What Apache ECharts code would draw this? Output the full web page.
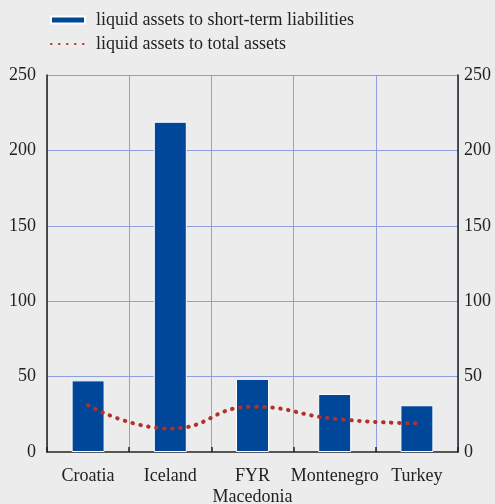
<!DOCTYPE html>
<html>
<head>
<meta charset="utf-8">
<script src="https://cdn.jsdelivr.net/npm/echarts@6/dist/echarts.min.js"></script>
<style>
  html, body { margin: 0; padding: 0; background: #ececec; }
  #chart { width: 495px; height: 504px; }
</style>
</head>
<body>
<div id="chart"></div>
<script>
const categories = ['Croatia', 'Iceland', 'FYR\nMacedonia', 'Montenegro', 'Turkey']
const shortTerm = [47.5, 219, 48.5, 38.5, 31]
const totalAssets = [31, 15.5, 30, 22, 19]
const yTicks = { min: 0, max: 250, interval: 50 }

const font = 'Liberation Serif'
const gridBlue = '#8f9fdc'
const splitColors = ['#ffffff', gridBlue, gridBlue, gridBlue, gridBlue, gridBlue]

const yAxisBase = {
  type: 'value',
  min: yTicks.min,
  max: yTicks.max,
  interval: yTicks.interval,
  axisLine: { show: true, lineStyle: { color: '#222', width: 1.5 } },
  axisTick: { show: false },
  axisLabel: { color: '#222', fontFamily: font, fontSize: 18 }
}

const chart = echarts.init(document.getElementById('chart'))
chart.setOption({
  backgroundColor: '#ececec',
  animation: false,
  legend: {
    orient: 'vertical',
    left: 45,
    top: 6,
    itemWidth: 34,
    itemHeight: 7,
    itemGap: 6,
    textStyle: { color: '#222', fontFamily: font, fontSize: 18, padding: [0, 0, 0, 6] },
    data: [
      { name: 'liquid assets to short-term liabilities', icon: 'rect' },
      { name: 'liquid assets to total assets', itemStyle: { opacity: 0 } }
    ]
  },
  grid: { left: 47, right: 37, top: 75, bottom: 52, outerBoundsMode: 'none', containLabel: false },
  xAxis: {
    type: 'category',
    data: categories,
    offset: 5,
    axisLine: { lineStyle: { color: '#222', width: 1.5 } },
    axisTick: { show: true, inside: true, length: 5, lineStyle: { color: '#222', width: 1.5 } },
    axisLabel: { color: '#222', fontFamily: font, fontSize: 18, margin: 9, lineHeight: 21, interval: 0 },
    splitLine: { show: true, lineStyle: { color: gridBlue, width: 1 } }
  },
  yAxis: [
    Object.assign({}, yAxisBase, {
      position: 'left',
      axisLabel: Object.assign({}, yAxisBase.axisLabel, { margin: 11 }),
      splitLine: { show: true, lineStyle: { color: splitColors, width: 1 } }
    }),
    Object.assign({}, yAxisBase, {
      position: 'right',
      axisLabel: Object.assign({}, yAxisBase.axisLabel, { margin: 6 }),
      splitLine: { show: false }
    })
  ],
  series: [
    {
      name: 'liquid assets to short-term liabilities',
      type: 'bar',
      data: shortTerm,
      barWidth: 33,
      itemStyle: { color: '#00479a', borderColor: '#ffffff', borderWidth: 1 }
    },
    {
      name: 'liquid assets to total assets',
      type: 'line',
      data: totalAssets,
      smooth: 0.5,
      symbol: 'none',
      itemStyle: { color: '#b2312a' },
      lineStyle: { color: '#b2312a', width: 4, type: [0.5, 7.5], cap: 'round' }
    }
  ]
})
</script>
</body>
</html>
